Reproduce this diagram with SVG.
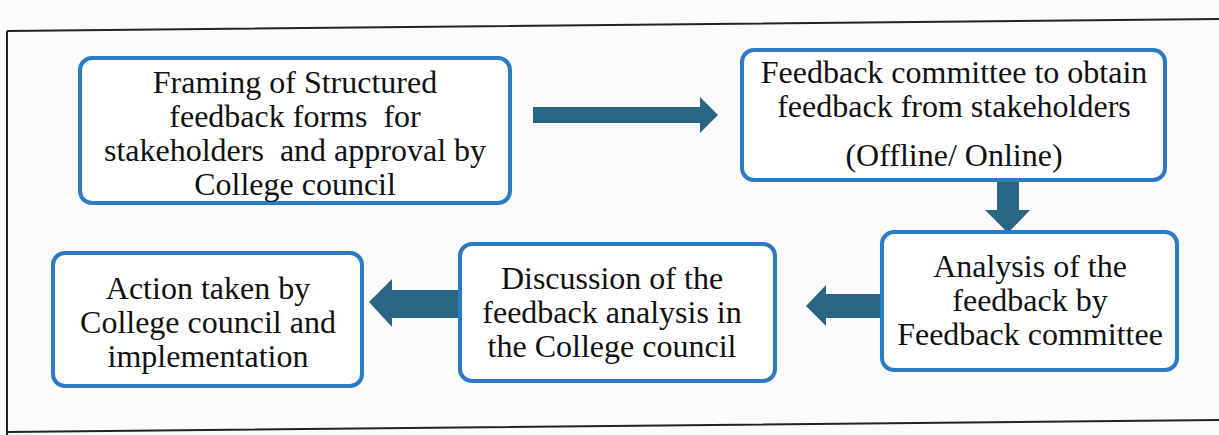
<svg xmlns="http://www.w3.org/2000/svg" width="1219" height="435" viewBox="0 0 1219 435">
<defs>
<style>
.box{fill:#fff;stroke:#2b7bc6;stroke-width:4}
text{font-family:'Liberation Serif','DejaVu Serif',serif;font-size:32px;fill:#111;text-anchor:middle;white-space:pre}
.arr{fill:#2b6584}
.frame{fill:none;stroke:#222;stroke-width:2}
</style>
</defs>
<rect width="1219" height="435" fill="#fbfbfb"/>
<path class="frame" d="M7,31 L1219,19 M7,31 L7,435 M7,432 L1219,420"/>
<g id="connectors">
<polygon class="arr" points="533,107 700,107 700,97 718,115 700,133 700,123 533,123"/>
<polygon class="arr" points="997,180 1019,180 1019,210 1030,210 1008,233 985,210 997,210"/>
<polygon class="arr" points="882,294 826,294 826,285 806,306 826,326 826,318 882,318"/>
<polygon class="arr" points="460,290 392,290 392,279 369,302 392,327 392,318 460,318"/>
</g>
<g id="node1">
<rect class="box" x="80" y="58" width="430" height="145" rx="12"/>
<text x="295" y="93">Framing of Structured</text>
<text x="295" y="127" xml:space="preserve">feedback forms  for</text>
<text x="295" y="161" xml:space="preserve">stakeholders  and approval by</text>
<text x="295" y="195">College council</text>
</g>
<g id="node2">
<rect class="box" x="742" y="50" width="423" height="130" rx="12"/>
<text x="954" y="83">Feedback committee to obtain</text>
<text x="954" y="117">feedback from stakeholders</text>
<text x="954" y="166">(Offline/ Online)</text>
</g>
<g id="node3">
<rect class="box" x="882" y="232" width="295" height="138" rx="12"/>
<text x="1030" y="277">Analysis of the</text>
<text x="1030" y="311">feedback by</text>
<text x="1030" y="345">Feedback committee</text>
</g>
<g id="node4">
<rect class="box" x="460" y="244" width="315" height="137" rx="12"/>
<text x="612" y="289">Discussion of the</text>
<text x="612" y="323">feedback analysis in</text>
<text x="612" y="357">the College council</text>
</g>
<g id="node5">
<rect class="box" x="53" y="253" width="309" height="133" rx="12"/>
<text x="208" y="299">Action taken by</text>
<text x="208" y="333">College council and</text>
<text x="208" y="367">implementation</text>
</g>
</svg>
